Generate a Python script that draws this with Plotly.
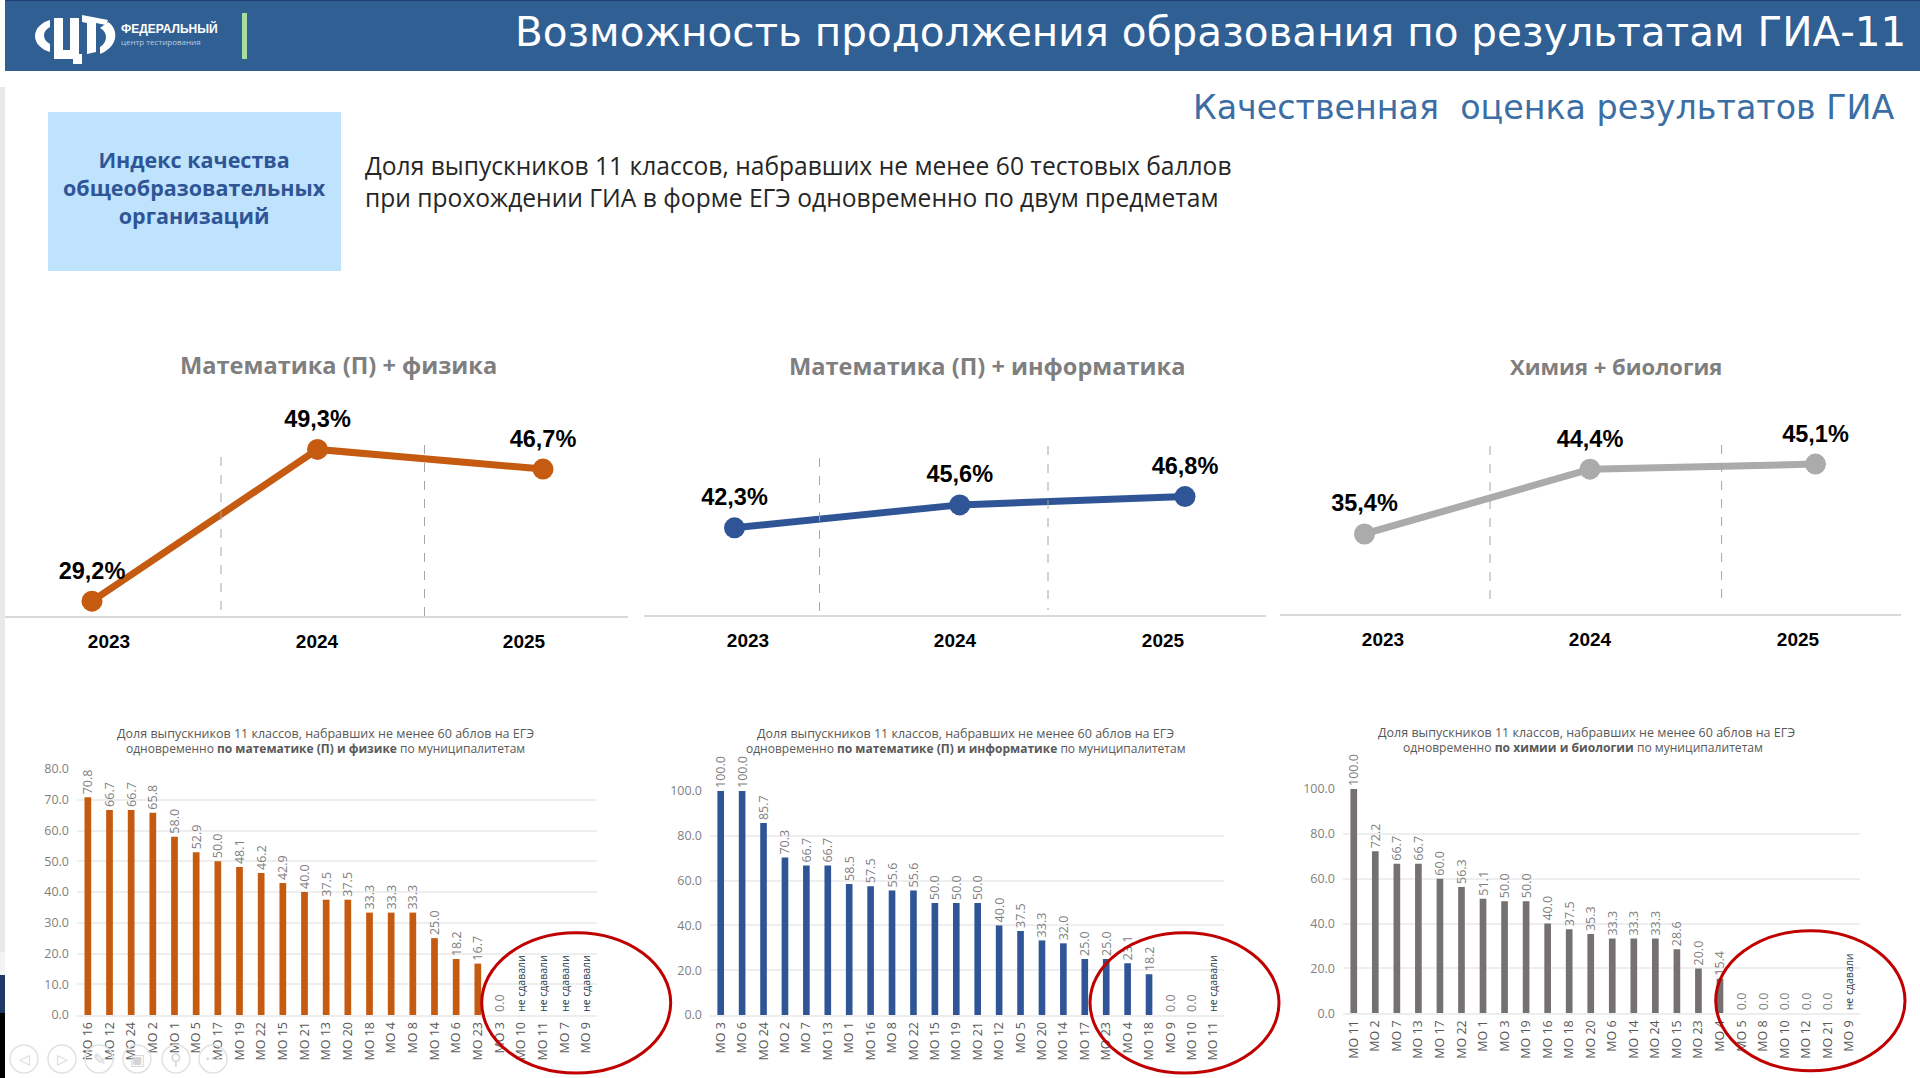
import plotly.graph_objects as go

YEARS = [2023, 2024, 2025]
MATH_PHYS_TREND = [29.2, 49.3, 46.7]
MATH_INF_TREND = [42.3, 45.6, 46.8]
CHEM_BIO_TREND = [35.4, 44.4, 45.1]

MATH_PHYS_MO = ['МО 16', 'МО 12', 'МО 24', 'МО 2', 'МО 1', 'МО 5', 'МО 17', 'МО 19',
                'МО 22', 'МО 15', 'МО 21', 'МО 13', 'МО 20', 'МО 18', 'МО 4', 'МО 8',
                'МО 14', 'МО 6', 'МО 23', 'МО 3', 'МО 10', 'МО 11', 'МО 7', 'МО 9']
MATH_PHYS_VALUES = [70.8, 66.7, 66.7, 65.8, 58.0, 52.9, 50.0, 48.1,
                    46.2, 42.9, 40.0, 37.5, 37.5, 33.3, 33.3, 33.3,
                    25.0, 18.2, 16.7, 0.0, None, None, None, None]

MATH_INF_MO = ['МО 3', 'МО 6', 'МО 24', 'МО 2', 'МО 7', 'МО 13', 'МО 1', 'МО 16',
               'МО 8', 'МО 22', 'МО 15', 'МО 19', 'МО 21', 'МО 12', 'МО 5', 'МО 20',
               'МО 14', 'МО 17', 'МО 23', 'МО 4', 'МО 18', 'МО 9', 'МО 10', 'МО 11']
MATH_INF_VALUES = [100.0, 100.0, 85.7, 70.3, 66.7, 66.7, 58.5, 57.5,
                   55.6, 55.6, 50.0, 50.0, 50.0, 40.0, 37.5, 33.3,
                   32.0, 25.0, 25.0, 23.1, 18.2, 0.0, 0.0, None]

CHEM_BIO_MO = ['МО 11', 'МО 2', 'МО 7', 'МО 13', 'МО 17', 'МО 22', 'МО 1', 'МО 3',
               'МО 19', 'МО 16', 'МО 18', 'МО 20', 'МО 6', 'МО 14', 'МО 24', 'МО 15',
               'МО 23', 'МО 4', 'МО 5', 'МО 8', 'МО 10', 'МО 12', 'МО 21', 'МО 9']
CHEM_BIO_VALUES = [100.0, 72.2, 66.7, 66.7, 60.0, 56.3, 51.1, 50.0,
                   50.0, 40.0, 37.5, 35.3, 33.3, 33.3, 33.3, 28.6,
                   20.0, 15.4, 0.0, 0.0, 0.0, 0.0, 0.0, None]

W, H = 1920, 1078
ORANGE = '#C55A11'
BLUE = '#2F5597'
GREY = '#ABABAB'
DARK_GREY = '#767171'
HEAD = '#305F94'
FONT = 'Open Sans'
WIDE_FONT = 'DejaVu Sans'
BOLD_FONT = 'Liberation Sans'


def px_x(x):
    return x / W


def px_y(y):
    return 1 - y / H


fig = go.Figure()
shapes = []
annotations = []
axes = {}


def rect(x0, y0, x1, y1, color):
    shapes.append(dict(type='rect', xref='paper', yref='paper', x0=px_x(x0), x1=px_x(x1),
                       y0=px_y(y0), y1=px_y(y1), fillcolor=color, line=dict(width=0), layer='below'))


def label(x, y, text, size, color, family=FONT, anchor='center', bold=False):
    annotations.append(dict(xref='paper', yref='paper', x=px_x(x), y=px_y(y), text=text, showarrow=False,
                            xanchor=anchor, yanchor='middle', align=anchor,
                            font=dict(size=size, color=color, family=family, weight=700 if bold else 400)))


def logo_path(parts):
    # parts are pixel outlines, turned into paper units
    out = []
    for cmd, coords in parts:
        pairs = [f'{px_x(coords[i])},{px_y(coords[i + 1])}' for i in range(0, len(coords), 2)]
        if cmd == 'L':
            out += ['L' + p for p in pairs]
        else:
            out.append(cmd + ' '.join(pairs))
    return ' '.join(out) + ' Z'


def trend_chart(n, values, color, left, right, base, dot0, step, tick_px, yrange, dividers):
    xname, yname = ('x', 'y') if n == 1 else (f'x{n}', f'y{n}')
    fig.add_trace(go.Scatter(
        x=YEARS, y=values, mode='lines+markers',
        line=dict(color=color, width=7),
        marker=dict(color=color, size=21),
        showlegend=False, xaxis=xname, yaxis=yname))
    # labels sit on a wider see-through marker so they clear the dots
    fig.add_trace(go.Scatter(
        x=YEARS, y=values, mode='markers+text',
        marker=dict(size=25, opacity=0),
        text=[f'{v:.1f}%'.replace('.', ',') for v in values],
        textposition='top center',
        textfont=dict(size=23.5, color='#000000', family=BOLD_FONT, weight=700),
        cliponaxis=False, showlegend=False, xaxis=xname, yaxis=yname))
    to_year = lambda p: YEARS[0] + (p - dot0) / step
    axes['xaxis' if n == 1 else f'xaxis{n}'] = dict(
        domain=[px_x(left), px_x(right)], anchor=yname, automargin=False,
        range=[to_year(left), to_year(right)],
        tickvals=[to_year(p) for p in tick_px], ticktext=[str(y) for y in YEARS],
        tickfont=dict(size=19, color='#000000', family=BOLD_FONT, weight=700),
        ticklabelstandoff=7, showgrid=False, zeroline=False,
        showline=True, linecolor='#D9D9D9', linewidth=2, ticks='')
    axes['yaxis' if n == 1 else f'yaxis{n}'] = dict(
        domain=[px_y(base), px_y(400)], anchor=xname, range=yrange, visible=False, automargin=False)
    for x, y0, y1 in dividers:
        shapes.append(dict(type='line', xref='paper', yref='paper', x0=px_x(x), x1=px_x(x),
                           y0=px_y(y0), y1=px_y(y1), line=dict(color='#A6A6A6', width=1, dash='dash')))


def bar_chart(n, names, values, color, left, right, base, top, ymax, dtick):
    xname, yname = f'x{n}', f'y{n}'
    fig.add_trace(go.Bar(
        x=names, y=[0 if v is None else v for v in values],
        marker=dict(color=color, line=dict(width=0)),
        text=['не сдавали' if v is None else f'{v:.1f}' for v in values],
        textposition='outside', textangle=-90, constraintext='none', cliponaxis=False,
        textfont=dict(family=FONT,
                      size=[10.5 if v is None else 12.5 for v in values],
                      color=['#1F3B4D' if v is None else '#7F7F7F' for v in values]),
        showlegend=False, xaxis=xname, yaxis=yname))
    axes[f'xaxis{n}'] = dict(
        domain=[px_x(left), px_x(right)], anchor=yname, type='category', automargin=False,
        tickangle=-90, tickfont=dict(size=12.5, color='#595959', family=FONT),
        showgrid=False, zeroline=False, showline=True, linecolor='#EDEDED', linewidth=2,
        ticks='', ticklabelstandoff=0)
    axes[f'yaxis{n}'] = dict(
        domain=[px_y(base), px_y(top)], anchor=xname, range=[0, ymax], dtick=dtick, automargin=False,
        tickformat='.1f', tickfont=dict(size=12.5, color='#7F7F7F', family=FONT),
        gridcolor='#EEEEEE', gridwidth=2, zeroline=False, showline=False, ticks='',
        ticklabelstandoff=7)


# background pieces of the slide
rect(0, 87, 5, 952, '#E9E9E9')
rect(0, 952, 5, 975, '#F4F4F4')
rect(0, 975, 5, 1013, '#1F3864')
rect(0, 1013, 5, 1078, '#000000')
rect(5, 0, 1920, 71, HEAD)
rect(5, 0, 1920, 1, '#1F3F70')
rect(242, 13, 247, 59, '#A9DDA0')

# logo, drawn by hand in pixels
logo_parts = [
    [('M', [50, 20]), ('C', [30, 26, 30, 46, 50, 52]), ('L', [50, 44]), ('C', [42, 40, 42, 31, 50, 27])],
    [('M', [54, 18]), ('L', [63, 18, 63, 50, 70, 50, 70, 18, 79, 18, 79, 54, 82, 54, 82, 64, 73, 64, 73, 59, 54, 59])],
    [('M', [82, 15]), ('L', [108, 20, 106, 25, 96, 23, 96, 52, 87, 54, 87, 23, 82, 22])],
    [('M', [100, 28]), ('C', [108, 32, 108, 42, 100, 47]), ('L', [100, 54]), ('C', [120, 46, 118, 28, 108, 22])],
]
for part in logo_parts:
    shapes.append(dict(type='path', xref='paper', yref='paper', path=logo_path(part),
                       fillcolor='#FFFFFF', line=dict(width=0)))

label(119, 28, 'ФЕДЕРАЛЬНЫЙ', 12, '#FFFFFF', BOLD_FONT, 'left', True)
label(119, 41, 'центр тестирования', 8, '#B9CCE0', FONT, 'left')
label(1908, 32, 'Возможность продолжения образования по результатам ГИА-11', 40.5, '#FFFFFF', WIDE_FONT, 'right')
label(1896, 107, 'Качественная  оценка результатов ГИА', 33.3, '#3A6EA5', WIDE_FONT, 'right')

rect(48, 112, 341, 271, '#BFE3FC')
label(194, 188, 'Индекс качества<br>общеобразовательных<br>организаций', 21.5, BLUE, FONT, bold=True)

label(363, 182, 'Доля выпускников 11 классов, набравших не менее 60 тестовых баллов<br>'
                'при прохождении ГИА в форме ЕГЭ одновременно по двум предметам',
      24.6, '#262626', FONT, 'left')

label(338, 365, 'Математика (П) + физика', 23.6, '#7F7F7F', FONT, bold=True)
label(987, 366, 'Математика (П) + информатика', 23.6, '#7F7F7F', FONT, bold=True)
label(1616, 366, 'Химия + биология', 22, '#7F7F7F', FONT, bold=True)

trend_chart(1, MATH_PHYS_TREND, ORANGE, 5, 628, 615.7, 92, 225.5, [109, 317, 524], [27.28, 55.85],
            [(221, 457, 618), (424.5, 445, 623)])
trend_chart(2, MATH_INF_TREND, BLUE, 644, 1266, 615, 734.5, 225.25, [748, 955, 1163], [29.75, 60.7],
            [(819.5, 458, 618), (1048, 446, 610)])
trend_chart(3, CHEM_BIO_TREND, GREY, 1280, 1901, 614.3, 1364.5, 225.5, [1383, 1590, 1798], [24.25, 54.0],
            [(1490, 446, 608), (1721.6, 445, 607)])

bar_chart(4, MATH_PHYS_MO, MATH_PHYS_VALUES, ORANGE, 77, 597, 1015, 769, 80, 10)
bar_chart(5, MATH_INF_MO, MATH_INF_VALUES, BLUE, 710, 1224, 1015, 791, 100, 20)
bar_chart(6, CHEM_BIO_MO, CHEM_BIO_VALUES, DARK_GREY, 1343, 1860, 1013.3, 789, 100, 20)

line1 = 'Доля выпускников 11 классов, набравших не менее 60 аблов на ЕГЭ'
label(325, 733, line1, 12.5, '#595959')
label(325, 748, 'одновременно <b>по математике (П) и физике</b> по муниципалитетам', 12, '#595959')
label(965.5, 733, line1, 12.5, '#595959')
label(965.5, 748, 'одновременно <b>по математике (П) и информатике</b> по муниципалитетам', 12, '#595959')
label(1586, 732, line1, 12.5, '#595959')
label(1583, 747, 'одновременно <b>по химии и биологии</b> по муниципалитетам', 12.1, '#595959')

# red ellipses over the last bars
for x0, y0, x1, y1 in [(481.7, 932.7, 670.7, 1073), (1090, 932.7, 1279, 1073), (1715.7, 930.7, 1905, 1070.7)]:
    shapes.append(dict(type='circle', xref='paper', yref='paper', x0=px_x(x0), x1=px_x(x1),
                       y0=px_y(y0), y1=px_y(y1), line=dict(color='#C00000', width=3)))

# slideshow controls bottom left
for cx in [24, 62, 99, 137, 176, 213]:
    shapes.append(dict(type='circle', xref='paper', yref='paper', x0=px_x(cx - 14), x1=px_x(cx + 14),
                       y0=px_y(1059 - 14), y1=px_y(1059 + 14), line=dict(color='#E2E2E2', width=1.5)))
label(24, 1059, '◁', 14, '#D5D5D5', 'DejaVu Sans')
label(62, 1059, '▷', 14, '#D5D5D5', 'DejaVu Sans')
label(99, 1059, '✎', 16, '#D5D5D5', 'DejaVu Sans')
label(137, 1059, '▣', 16, '#D5D5D5', 'DejaVu Sans')
label(176, 1059, '⚲', 16, '#D5D5D5', 'DejaVu Sans')
label(213, 1059, '•••', 9, '#D5D5D5', 'DejaVu Sans')

fig.update_layout(
    width=W, height=H,
    margin=dict(l=0, r=0, t=0, b=0, autoexpand=False),
    paper_bgcolor='#FFFFFF',
    plot_bgcolor='rgba(0,0,0,0)',
    bargap=0.69,
    shapes=shapes,
    annotations=annotations,
    **axes
)
fig.write_html("out.html", config={'displayModeBar': False},
               post_script="document.body.style.margin='0';document.body.style.overflow='hidden';")
